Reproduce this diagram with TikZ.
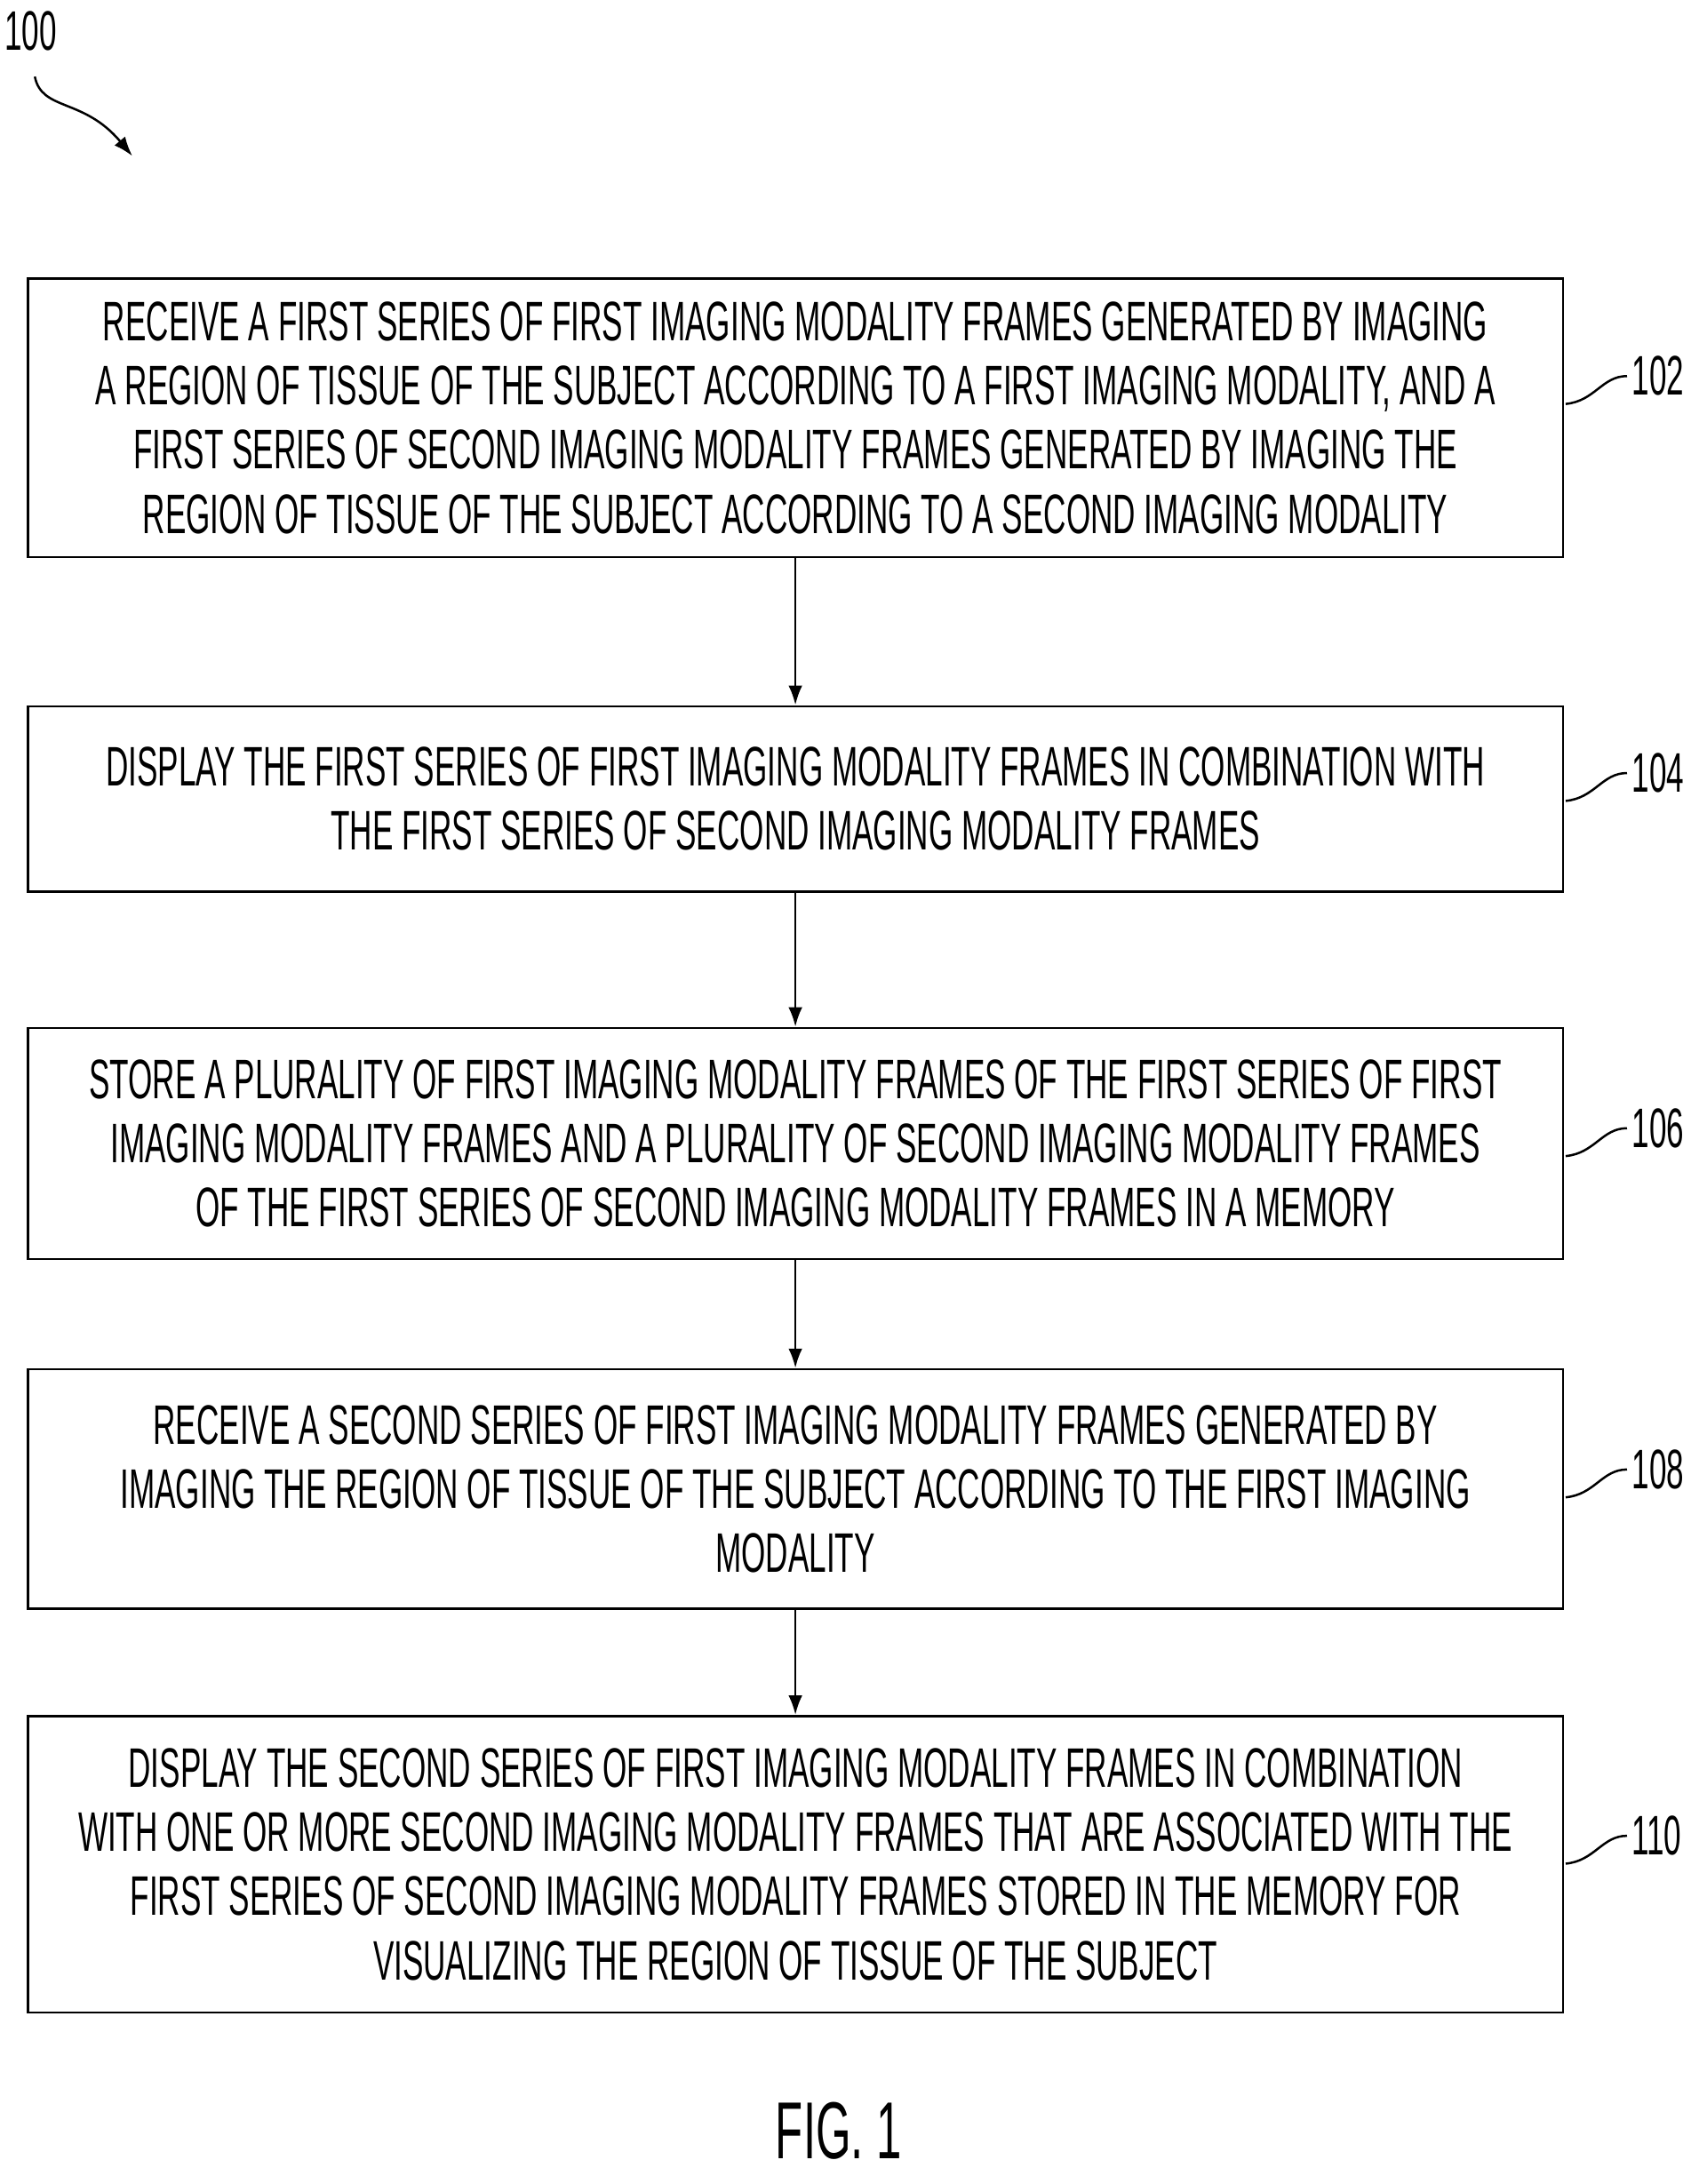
\documentclass[tikz,border=0pt]{standalone}
\usepackage{fontspec}
\setmainfont{Liberation Sans}[FakeStretch=0.56]
\usetikzlibrary{arrows.meta,positioning,calc}
\begin{document}
\begin{tikzpicture}[x=1pt,y=-1pt,
    stepbox/.style={draw, line width=1.6pt, minimum width=1102pt, inner sep=0pt, align=center,
        font=\fontsize{40}{46}\selectfont},
    flow/.style={-{Latex[length=14pt,width=10pt]}, line width=1.6pt},
    tag/.style={font=\fontsize{40}{46}\selectfont},
    lead/.style={line width=1.6pt}]
    \useasboundingbox (0,0) rectangle (1225,1568);

    % Steps
    \node[stepbox, minimum height=200pt] (s102) at (571,300) {RECEIVE A FIRST SERIES OF FIRST IMAGING MODALITY FRAMES GENERATED BY IMAGING\\A REGION OF TISSUE OF THE SUBJECT ACCORDING TO A FIRST IMAGING MODALITY, AND A\\FIRST SERIES OF SECOND IMAGING MODALITY FRAMES GENERATED BY IMAGING THE\\REGION OF TISSUE OF THE SUBJECT ACCORDING TO A SECOND IMAGING MODALITY};
    \node[stepbox, minimum height=133pt] (s104) at (571,573.5) {DISPLAY THE FIRST SERIES OF FIRST IMAGING MODALITY FRAMES IN COMBINATION WITH\\THE FIRST SERIES OF SECOND IMAGING MODALITY FRAMES};
    \node[stepbox, minimum height=166pt] (s106) at (571,821) {STORE A PLURALITY OF FIRST IMAGING MODALITY FRAMES OF THE FIRST SERIES OF FIRST\\IMAGING MODALITY FRAMES AND A PLURALITY OF SECOND IMAGING MODALITY FRAMES\\OF THE FIRST SERIES OF SECOND IMAGING MODALITY FRAMES IN A MEMORY};
    \node[stepbox, minimum height=172pt] (s108) at (571,1069) {RECEIVE A SECOND SERIES OF FIRST IMAGING MODALITY FRAMES GENERATED BY\\IMAGING THE REGION OF TISSUE OF THE SUBJECT ACCORDING TO THE FIRST IMAGING\\MODALITY};
    \node[stepbox, minimum height=213pt] (s110) at (571,1338.5) {DISPLAY THE SECOND SERIES OF FIRST IMAGING MODALITY FRAMES IN COMBINATION\\WITH ONE OR MORE SECOND IMAGING MODALITY FRAMES THAT ARE ASSOCIATED WITH THE\\FIRST SERIES OF SECOND IMAGING MODALITY FRAMES STORED IN THE MEMORY FOR\\VISUALIZING THE REGION OF TISSUE OF THE SUBJECT};

    % Arrows
    \draw[flow] (s102) -- (s104);
    \draw[flow] (s104) -- (s106);
    \draw[flow] (s106) -- (s108);
    \draw[flow] (s108) -- (s110);

    % Reference numerals
    \foreach \n/\y in {102/270,104/555,106/810,108/1055,110/1318} {
        \node[tag, anchor=west] (t\n) at (1168,\y) {\n};
        \coordinate (e\n) at (1124,\y+20);
        \draw[lead] (e\n) .. controls (1145,\y+18) and (1150,\y) .. (t\n.west);
    }

    % Figure number
    \node[tag] (n100) at (22,22) {100};
    \coordinate (p100) at (95,112);
    \draw[-{Latex[length=14pt,width=10pt]}, line width=1.6pt] (25,55) .. controls (30,80) and (60,70) .. (p100);
    \node[font=\fontsize{58}{64}\selectfont] (fig) at (602,1530) {FIG. 1};
\end{tikzpicture}
\end{document}
